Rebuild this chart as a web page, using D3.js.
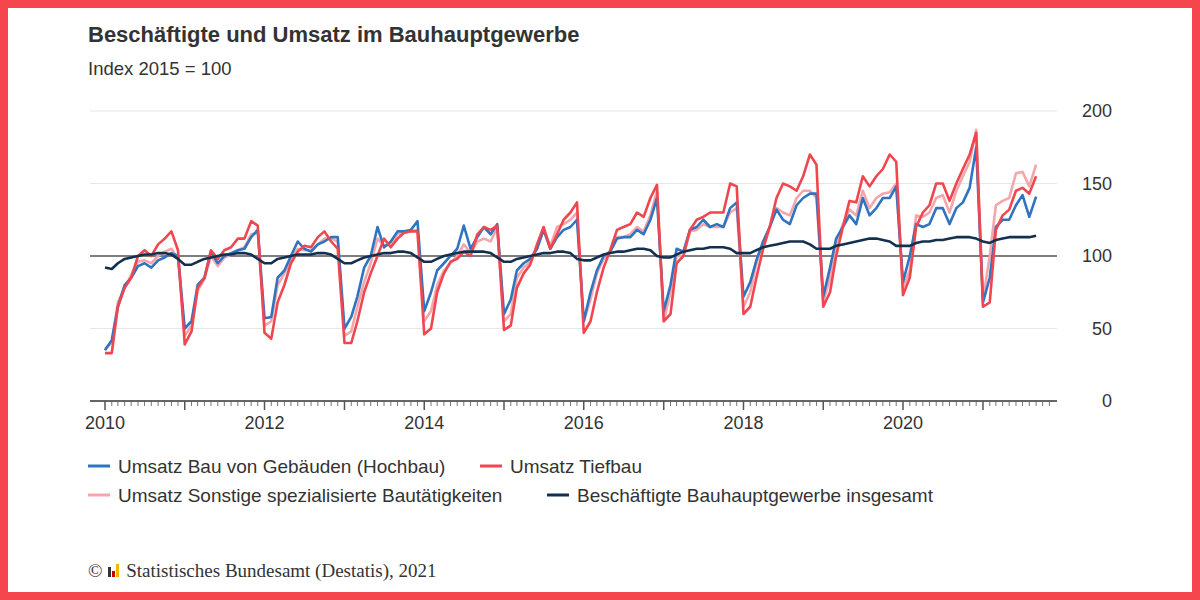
<!DOCTYPE html>
<html>
<head>
<meta charset="utf-8">
<style>
  body { margin: 0; background: #fff; }
  text { font-family: "Liberation Sans", Arial, sans-serif; fill: #333; }
</style>
</head>
<body>
<script src="https://cdnjs.cloudflare.com/ajax/libs/d3/7.8.5/d3.min.js"></script>
<script>
// Monthly values, Jan 2010 - Sep 2021
const hochbau = [
  35,42,65,80,85,93,95,92,97,99,102,100,
  50,55,80,85,103,95,100,102,104,105,113,118,
  57,58,85,90,100,110,105,103,108,110,113,113,
  50,58,72,92,100,120,106,110,117,117,118,124,
  62,75,90,95,100,105,121,105,113,120,115,122,
  60,70,90,95,98,105,118,105,113,118,120,125,
  55,75,90,100,103,112,113,113,118,115,125,140,
  62,80,105,103,118,120,125,120,122,120,133,137,
  72,82,97,110,120,132,125,122,135,140,143,143,
  72,92,112,120,128,122,140,128,133,140,140,148,
  82,100,122,120,122,133,133,122,133,137,147,175,
  68,85,120,125,125,135,142,127,141
];
const tiefbau = [
  33,33,65,78,85,100,104,100,108,112,117,104,
  39,48,78,85,104,98,104,106,112,112,124,121,
  47,43,68,80,95,103,107,106,113,117,110,105,
  40,40,55,75,88,100,112,106,112,116,117,117,
  46,50,75,88,96,98,103,100,115,120,118,121,
  49,52,78,88,94,108,120,105,115,125,130,137,
  47,55,75,92,104,118,120,122,130,127,140,149,
  55,60,95,100,118,125,127,130,130,130,150,148,
  60,65,85,105,120,140,150,148,145,155,170,163,
  65,75,100,120,138,137,155,148,155,160,170,165,
  73,85,120,130,135,150,150,138,150,160,170,185,
  65,68,118,128,132,145,147,143,155
];
const sonstige = [
  36,40,68,78,87,96,97,95,100,103,105,98,
  45,52,76,84,100,93,99,101,104,106,115,116,
  52,55,80,88,97,105,104,104,108,112,112,110,
  45,48,65,82,95,112,107,108,115,116,117,118,
  55,62,80,90,95,100,108,102,110,112,110,120,
  55,60,85,92,96,105,118,107,120,122,125,130,
  55,70,88,98,103,113,113,115,120,117,128,145,
  55,75,100,100,117,118,122,120,120,120,130,133,
  65,75,95,110,120,133,130,128,140,145,145,140,
  68,85,108,122,132,128,145,133,140,143,144,150,
  78,90,128,127,130,140,142,130,145,155,165,187,
  70,100,135,138,140,157,158,148,163
];
const beschaeftigte = [
  92,91,95,98,99,100,101,101,102,102,101,98,
  94,94,96,98,99,100,101,101,102,102,101,98,
  95,95,98,99,100,101,101,101,102,102,101,98,
  95,95,97,99,100,101,102,102,103,103,102,99,
  96,96,98,100,101,102,103,103,103,103,102,99,
  96,96,98,99,100,101,102,102,103,103,102,98,
  97,97,99,101,102,103,103,104,105,105,104,100,
  99,99,101,103,104,105,105,106,106,106,105,102,
  102,102,104,106,107,108,109,110,110,110,108,105,
  105,105,107,108,109,110,111,112,112,111,110,107,
  107,107,109,110,110,111,111,112,113,113,113,112,
  110,109,111,112,113,113,113,113,114
];
const yTicks = [0, 50, 100, 150, 200];
const yearLabels = [2010, 2012, 2014, 2016, 2018, 2020];

const series = [
  {name: "Umsatz Sonstige spezialisierte Bautätigkeiten", values: sonstige, color: "#f6a5aa"},
  {name: "Umsatz Bau von Gebäuden (Hochbau)", values: hochbau, color: "#2f74c0"},
  {name: "Umsatz Tiefbau", values: tiefbau, color: "#f0464f"},
  {name: "Beschäftigte Bauhauptgewerbe insgesamt", values: beschaeftigte, color: "#14304f"}
];

const W = 1200, H = 600;
const svg = d3.select("body").append("svg").attr("width", W).attr("height", H);

// red frame
svg.append("rect").attr("x", 4).attr("y", 4).attr("width", W - 8).attr("height", H - 8)
  .attr("fill", "#fff").attr("stroke", "#f5464d").attr("stroke-width", 8);

const start = new Date(2010, 0, 1);
const months = d3.range(hochbau.length).map(i => new Date(2010, i, 1));

const x = d3.scaleTime().domain([start, new Date(2020, 0, 1)]).range([105, 903]);
const y = d3.scaleLinear().domain([0, 200]).range([401, 111]);

// grid
svg.append("g").selectAll("line").data(yTicks.filter(d => d > 0)).join("line")
  .attr("x1", 90).attr("x2", 1057)
  .attr("y1", d => y(d)).attr("y2", d => y(d))
  .attr("stroke", d => d === 100 ? "#555" : "#e6e6e6")
  .attr("stroke-width", d => d === 100 ? 1.5 : 1);

// y labels on right
svg.append("g").selectAll("text").data(yTicks).join("text")
  .attr("x", 1112).attr("y", d => y(d) + 6)
  .attr("text-anchor", "end").attr("font-size", 18).text(d => d);

// x axis
const xAxis = svg.append("g").attr("transform", "translate(0,401)");
xAxis.append("line").attr("x1", 90).attr("x2", 1057).attr("stroke", "#333").attr("stroke-width", 1.5);
const allMonths = d3.timeMonth.range(new Date(2010, 0, 1), new Date(2021, 11, 1));
xAxis.selectAll("line.t").data(allMonths).join("line").attr("class", "t")
  .attr("x1", d => x(d)).attr("x2", d => x(d))
  .attr("y1", 0).attr("y2", d => d.getMonth() === 0 ? 9 : 5)
  .attr("stroke", "#555").attr("stroke-width", d => d.getMonth() === 0 ? 1.5 : 0.8);
xAxis.selectAll("text").data(yearLabels).join("text")
  .attr("x", d => x(new Date(d, 0, 1))).attr("y", 28)
  .attr("text-anchor", "middle").attr("font-size", 18).text(d => d);

// lines
const line = d3.line().x((d, i) => x(months[i])).y(d => y(d));
svg.append("g").selectAll("path").data(series).join("path")
  .attr("d", s => line(s.values))
  .attr("fill", "none").attr("stroke", s => s.color)
  .attr("stroke-width", 2.6).attr("stroke-linejoin", "round");

// titles
svg.append("text").attr("x", 88).attr("y", 42).attr("font-size", 22).attr("font-weight", "bold")
  .text("Beschäftigte und Umsatz im Bauhauptgewerbe");
svg.append("text").attr("x", 88).attr("y", 75).attr("font-size", 18.5).text("Index 2015 = 100");

// legend
const legend = [
  {s: series[1], x: 88, y: 466},
  {s: series[2], x: 480, y: 466},
  {s: series[0], x: 88, y: 495},
  {s: series[3], x: 547, y: 495}
];
const lg = svg.append("g").selectAll("g").data(legend).join("g")
  .attr("transform", d => `translate(${d.x},${d.y})`);
lg.append("line").attr("x1", 0).attr("x2", 22).attr("stroke", d => d.s.color).attr("stroke-width", 3);
lg.append("text").attr("x", 30).attr("y", 7).attr("font-size", 19).text(d => d.s.name);

// footer
svg.append("text").attr("x", 88).attr("y", 577).attr("font-size", 19)
  .style("font-family", "'Liberation Serif', 'Times New Roman', serif")
  .text("© \u00a0\u00a0\u00a0 Statistisches Bundesamt (Destatis), 2021");
const logo = svg.append("g").attr("transform", "translate(108,577)");
logo.selectAll("rect").data([{h: 10, c: "#333"}, {h: 6, c: "#c00"}, {h: 13, c: "#f2b700"}]).join("rect")
  .attr("x", (d, i) => i * 4).attr("y", d => -d.h).attr("width", 3).attr("height", d => d.h)
  .attr("fill", d => d.c);
</script>
</body>
</html>
